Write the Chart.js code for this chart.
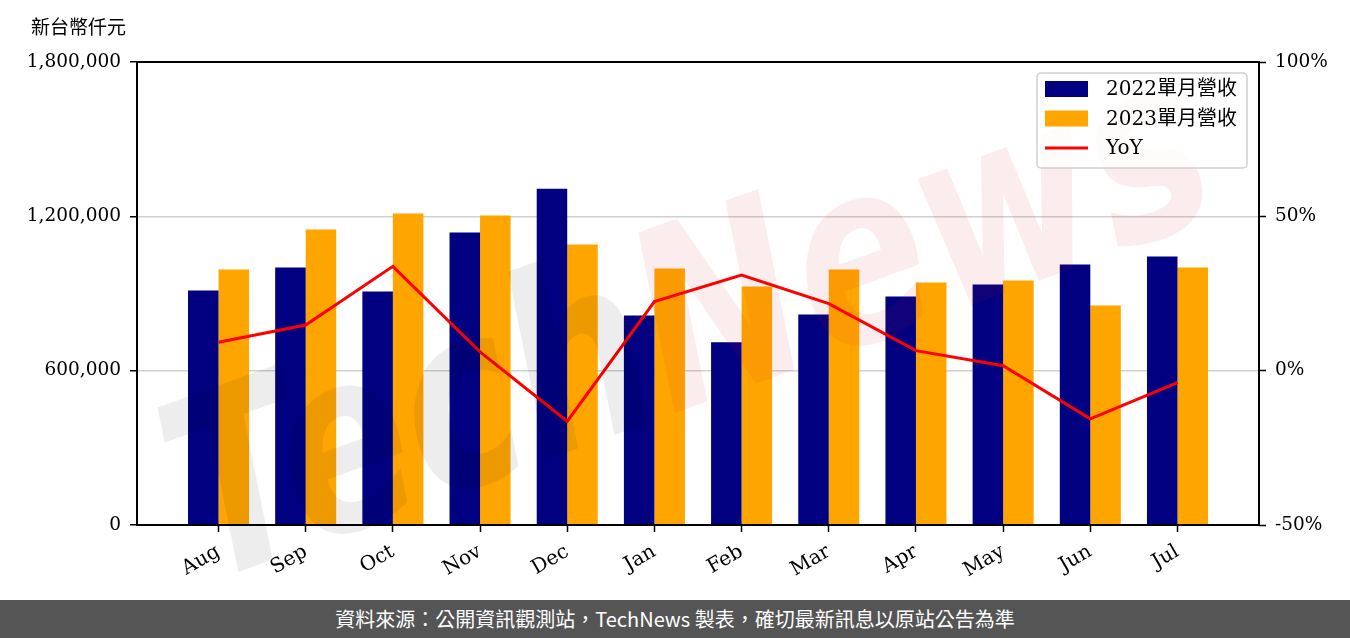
<!DOCTYPE html>
<html>
<head>
<meta charset="utf-8">
<script src="https://cdn.jsdelivr.net/npm/chart.js@4.4.0/dist/chart.umd.min.js"></script>
<style>
body { margin: 0; background: #fff; }
#wrap { width: 1350px; height: 600px; }
#footer { width: 1350px; height: 38px; background: #555555; color: #fff; font: 20px "Noto Sans CJK TC", sans-serif; text-align: center; line-height: 38px; }
</style>
</head>
<body>
<div id="wrap"><canvas id="revChart" width="1350" height="600"></canvas></div>
<div id="footer">資料來源：公開資訊觀測站，TechNews 製表，確切最新訊息以原站公告為準</div>
<script>
var months = ['Aug', 'Sep', 'Oct', 'Nov', 'Dec', 'Jan', 'Feb', 'Mar', 'Apr', 'May', 'Jun', 'Jul'];
var rev2022 = [911800, 1001000, 907900, 1136800, 1307600, 814800, 710000, 818700, 888500, 935100, 1012700, 1043700];
var rev2023 = [993300, 1148500, 1210600, 1202800, 1090300, 997200, 927300, 993300, 942800, 950600, 853600, 1001000];
var yoy = [9.2, 14.8, 33.8, 6.1, -16.4, 22.4, 31.0, 21.7, 6.5, 1.6, -15.6, -3.9];
var leftTicks = [0, 600000, 1200000, 1800000];
var rightTicks = [-50, 0, 50, 100];

var serif = "'DejaVu Serif', 'Noto Sans CJK TC', serif";

var frame = {
    id: 'frame',
    afterDatasetsDraw: function(chart) {
        var c = chart.ctx, a = chart.chartArea;
        // watermark
        c.save();
        c.translate(640, 330);
        c.rotate(-20 * Math.PI / 180);
        c.scale(0.78, 1);
        c.font = "italic bold 250px 'DejaVu Sans'";
        c.textBaseline = 'alphabetic';
        c.textAlign = 'right';
        c.fillStyle = 'rgba(0,0,0,0.07)';
        c.fillText('Tech', 0, 90);
        c.textAlign = 'left';
        c.fillStyle = 'rgba(200,30,30,0.08)';
        c.fillText('News', 0, 90);
        c.restore();
        // spines
        c.save();
        c.strokeStyle = '#000';
        c.lineWidth = 2;
        c.strokeRect(a.left, a.top, a.right - a.left, a.bottom - a.top);
        c.restore();
    },
    afterDraw: function(chart) {
        var c = chart.ctx, a = chart.chartArea;
        // unit label
        c.save();
        c.fillStyle = '#000';
        c.font = "19px 'Noto Sans CJK TC'";
        c.textBaseline = 'middle';
        c.textAlign = 'left';
        c.fillText('新台幣仟元', 31, 27);
        // legend
        var x0 = a.right - 222, y0 = a.top + 11, w = 210, h = 95;
        c.beginPath();
        c.roundRect(x0, y0, w, h, 4);
        c.fillStyle = 'rgba(255,255,255,0.8)';
        c.fill();
        c.strokeStyle = '#d0d0d0';
        c.lineWidth = 1.5;
        c.stroke();
        var ds = chart.data.datasets;
        var rows = [y0 + 16, y0 + 45.5, y0 + 75];
        c.font = '20px ' + serif;
        for (var i = 0; i < ds.length; i++) {
            var cy = rows[i];
            if (ds[i].type === 'line') {
                c.fillStyle = ds[i].borderColor;
                c.fillRect(x0 + 8, cy - 1.5, 43, 3);
            } else {
                c.fillStyle = ds[i].backgroundColor;
                c.fillRect(x0 + 8, cy - 8, 43, 16);
            }
            c.fillStyle = '#000';
            c.fillText(ds[i].label, x0 + 69, cy + 1);
        }
        c.restore();
    }
};

var ctx = document.getElementById('revChart').getContext('2d');

var myChart = new Chart(ctx, {
    type: 'bar',
    data: {
        datasets: [
            {
                label: '2022單月營收',
                data: months.map(function(m, i) { return {x: i, y: rev2022[i]}; }),
                backgroundColor: '#000080',
                yAxisID: 'y',
                order: 1,
                categoryPercentage: 0.7,
                barPercentage: 1.0
            },
            {
                label: '2023單月營收',
                data: months.map(function(m, i) { return {x: i, y: rev2023[i]}; }),
                backgroundColor: '#FFA500',
                yAxisID: 'y',
                order: 1,
                categoryPercentage: 0.7,
                barPercentage: 1.0
            },
            {
                type: 'line',
                label: 'YoY',
                data: months.map(function(m, i) { return {x: i, y: yoy[i]}; }),
                borderColor: '#FF0000',
                backgroundColor: '#FF0000',
                borderWidth: 3,
                pointRadius: 0,
                tension: 0,
                yAxisID: 'y1',
                order: 0
            }
        ]
    },
    options: {
        responsive: false,
        animation: false,
        devicePixelRatio: 1,
        layout: { padding: { top: 62, left: 0, right: 0, bottom: 0 } },
        plugins: { legend: { display: false }, tooltip: { enabled: false } },
        scales: {
            x: {
                type: 'linear',
                min: -0.935,
                max: 11.935,
                offset: false,
                afterBuildTicks: function(s) { s.ticks = months.map(function(m, i) { return {value: i}; }); },
                afterFit: function(s) { s.height = 75; },
                border: { display: false },
                grid: { drawOnChartArea: false, offset: false, drawTicks: true, tickLength: 7, tickColor: '#000', tickWidth: 1.5 },
                ticks: {
                    autoSkip: false,
                    minRotation: 30,
                    maxRotation: 30,
                    padding: 8,
                    color: '#000',
                    font: { family: serif, size: 20 },
                    callback: function(v) { return months[v]; }
                }
            },
            y: {
                position: 'left',
                min: 0,
                max: 1800000,
                afterBuildTicks: function(s) { s.ticks = leftTicks.map(function(v) { return {value: v}; }); },
                afterFit: function(s) { s.width = 137; },
                border: { display: false },
                grid: { color: '#d0d0d0', lineWidth: 1.5, drawTicks: true, tickLength: 7, tickColor: '#000', tickWidth: 1.5 },
                ticks: {
                    padding: 9,
                    color: '#000',
                    font: { family: serif, size: 18.5 },
                    callback: function(v) { return v.toLocaleString('en-US'); }
                }
            },
            y1: {
                position: 'right',
                min: -50,
                max: 100,
                afterBuildTicks: function(s) { s.ticks = rightTicks.map(function(v) { return {value: v}; }); },
                afterFit: function(s) { s.width = 91; },
                border: { display: false },
                grid: { drawOnChartArea: false, drawTicks: true, tickLength: 7, tickColor: '#000', tickWidth: 1.5 },
                ticks: {
                    padding: 9,
                    color: '#000',
                    font: { family: serif, size: 18.5 },
                    callback: function(v) { return v + '%'; }
                }
            }
        }
    },
    plugins: [frame]
});
</script>
</body>
</html>
